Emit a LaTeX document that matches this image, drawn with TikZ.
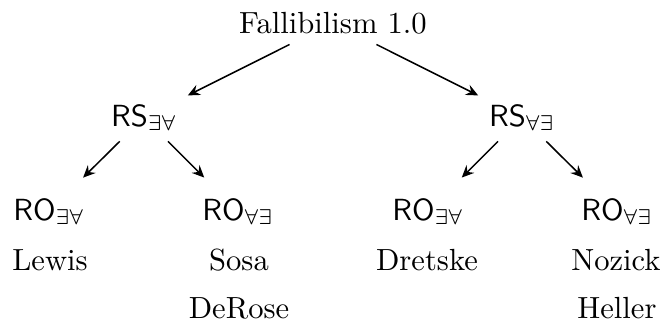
\documentclass[tikz,border=0pt]{standalone}
\usetikzlibrary{arrows.meta}
\begin{document}
\begin{tikzpicture}[x=0.327pt,y=-0.327pt,
  lbl/.style={anchor=base, inner sep=3.33pt},
  arr/.style={-{Stealth[length=4pt,width=3.6pt,inset=1.4pt]}, line width=0.5pt},
  leafarr/.style={arr, shorten >=4.5pt}]
\useasboundingbox (0,0) rectangle (663,322);
\node[lbl] (top) at (333,33) {Fallibilism 1.0};
\node[lbl] (rsl) at (144,126) {\textsf{RS}$_{\exists\forall}$};
\node[lbl] (rsr) at (522,126) {\textsf{RS}$_{\forall\exists}$};
\node[lbl] (ro1) at (49,220) {\textsf{RO}$_{\exists\forall}$};
\node[lbl] (ro2) at (238,220) {\textsf{RO}$_{\forall\exists}$};
\node[lbl] (ro3) at (428,220) {\textsf{RO}$_{\exists\forall}$};
\node[lbl] (ro4) at (617,220) {\textsf{RO}$_{\forall\exists}$};
\node[lbl] (n1) at (50,270) {Lewis};
\node[lbl] (n2) at (239,270) {Sosa};
\node[lbl] (n2b) at (239,318) {DeRose};
\node[lbl] (n3) at (427,270) {Dretske};
\node[lbl] (n4) at (616,270) {Nozick};
\node[lbl] (n4b) at (617,318) {Heller};
\draw[arr] (top) -- (rsl);
\draw[arr] (top) -- (rsr);
\draw[leafarr] (rsl) -- (ro1);
\draw[leafarr] (rsl) -- (ro2);
\draw[leafarr] (rsr) -- (ro3);
\draw[leafarr] (rsr) -- (ro4);
\end{tikzpicture}
\end{document}
